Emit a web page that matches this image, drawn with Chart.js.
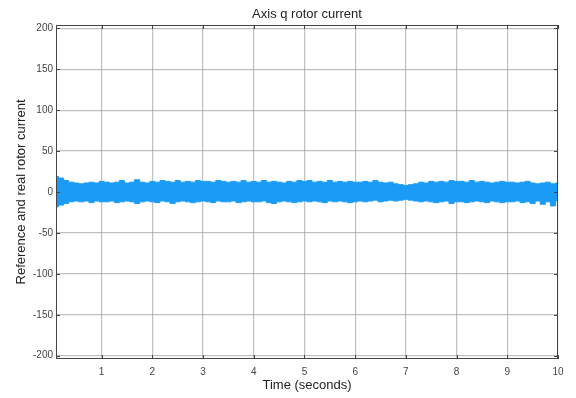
<!DOCTYPE html>
<html>
<head>
<meta charset="utf-8">
<script src="https://cdn.jsdelivr.net/npm/chart.js@4/dist/chart.umd.min.js"></script>
<style>
  html, body { margin: 0; padding: 0; background: #fff; }
  #wrap { width: 576px; height: 398px; position: relative; }
</style>
</head>
<body>
<div id="wrap"><canvas id="chart"></canvas></div>
<script>
// time samples (s)
const times = [
  0.1, 0.2, 0.3, 0.4, 0.5, 0.6, 0.7, 0.8, 0.9, 1.0,
  1.1, 1.2, 1.3, 1.4, 1.5, 1.6, 1.7, 1.8, 1.9, 2.0,
  2.1, 2.2, 2.3, 2.4, 2.5, 2.6, 2.7, 2.8, 2.9, 3.0,
  3.1, 3.2, 3.3, 3.4, 3.5, 3.6, 3.7, 3.8, 3.9, 4.0,
  4.1, 4.2, 4.3, 4.4, 4.5, 4.6, 4.7, 4.8, 4.9, 5.0,
  5.1, 5.2, 5.3, 5.4, 5.5, 5.6, 5.7, 5.8, 5.9, 6.0,
  6.1, 6.2, 6.3, 6.4, 6.5, 6.6, 6.7, 6.8, 6.9, 7.0,
  7.1, 7.2, 7.3, 7.4, 7.5, 7.6, 7.7, 7.8, 7.9, 8.0,
  8.1, 8.2, 8.3, 8.4, 8.5, 8.6, 8.7, 8.8, 8.9, 9.0,
  9.1, 9.2, 9.3, 9.4, 9.5, 9.6, 9.7, 9.8, 9.9, 10.0
];

// upper edge of the current ripple
const upperCurrent = [
  19, 17, 14, 12, 11, 10, 11, 12, 11, 13,
  12, 11, 12, 14, 11, 12, 15, 12, 11, 13,
  12, 14, 13, 12, 14, 12, 13, 12, 14, 13,
  13, 12, 14, 13, 12, 13, 12, 14, 12, 13,
  12, 14, 12, 13, 12, 11, 13, 12, 14, 13,
  14, 12, 13, 12, 14, 12, 13, 12, 13, 12,
  12, 13, 12, 14, 12, 11, 12, 10, 9, 8,
  9, 10, 12, 11, 13, 12, 13, 12, 14, 13,
  13, 12, 14, 12, 13, 12, 11, 12, 13, 12,
  12, 11, 12, 13, 11, 10, 11, 12, 10, 11
];

// lower edge of the current ripple
const lowerCurrent = [
  -18, -16, -14, -12, -11, -12, -11, -13, -11, -12,
  -12, -11, -13, -12, -11, -12, -14, -12, -11, -12,
  -13, -11, -12, -14, -12, -11, -12, -13, -12, -11,
  -12, -13, -11, -12, -12, -11, -13, -12, -11, -12,
  -12, -11, -13, -14, -12, -11, -12, -13, -12, -11,
  -12, -11, -12, -13, -11, -12, -11, -12, -13, -12,
  -11, -12, -11, -10, -12, -11, -10, -11, -10, -9,
  -10, -11, -12, -11, -12, -13, -12, -11, -14, -12,
  -12, -13, -12, -11, -12, -13, -11, -12, -13, -12,
  -12, -11, -13, -12, -14, -11, -15, -12, -17, -11
];

const xTicks = [1, 2, 3, 4, 5, 6, 7, 8, 9, 10];
const yTicks = [-200, -150, -100, -50, 0, 50, 100, 150, 200];

const blue = '#1a9bf6';
const font = "'Liberation Sans', Arial, sans-serif";
const gridColor = 'rgba(150,150,150,0.6)';

// box around the plot + matlab-ish title centred on the axes
const boxPlugin = {
  id: 'box',
  afterDraw(chart) {
    const { ctx, chartArea: a } = chart;
    ctx.save();
    ctx.strokeStyle = '#444';
    ctx.lineWidth = 1;
    ctx.strokeRect(a.left + 0.5, a.top + 0.5, a.right - a.left - 1, a.bottom - a.top - 1);
    // small inward tick marks
    const xs = chart.scales.x, ys = chart.scales.y;
    ctx.beginPath();
    xTicks.forEach(v => {
      const px = Math.round(xs.getPixelForValue(v)) + 0.5;
      ctx.moveTo(px, a.bottom); ctx.lineTo(px, a.bottom - 4);
      ctx.moveTo(px, a.top); ctx.lineTo(px, a.top + 4);
    });
    yTicks.forEach(v => {
      const py = Math.round(ys.getPixelForValue(v)) + 0.5;
      ctx.moveTo(a.left, py); ctx.lineTo(a.left + 4, py);
      ctx.moveTo(a.right, py); ctx.lineTo(a.right - 4, py);
    });
    ctx.stroke();
    ctx.fillStyle = '#222';
    ctx.font = '13px ' + font;
    ctx.textAlign = 'center';
    ctx.textBaseline = 'middle';
    ctx.fillText('Axis q rotor current', (a.left + a.right) / 2, 14);
    ctx.restore();
  }
};

const ctx = document.getElementById('chart').getContext('2d');
new Chart(ctx, {
  type: 'line',
  data: {
    datasets: [
      {
        label: 'upper',
        data: times.map((t, i) => ({ x: t, y: upperCurrent[i] })),
        borderColor: blue,
        backgroundColor: blue,
        borderWidth: 1,
        pointRadius: 0,
        stepped: 'middle',
        fill: '+1'
      },
      {
        label: 'lower',
        data: times.map((t, i) => ({ x: t, y: lowerCurrent[i] })),
        borderColor: blue,
        backgroundColor: blue,
        borderWidth: 1,
        pointRadius: 0,
        stepped: 'middle',
        fill: false
      }
    ]
  },
  options: {
    responsive: true,
    maintainAspectRatio: false,
    animation: false,
    layout: { padding: { left: 0, right: 18, top: 25, bottom: 0 } },
    plugins: {
      legend: { display: false },
      tooltip: { enabled: false },
      title: { display: false }
    },
    scales: {
      x: {
        type: 'linear',
        min: 0.1,
        max: 10,
        afterBuildTicks: axis => { axis.ticks = xTicks.map(v => ({ value: v })); },
        afterFit: axis => { axis.height = 39; },
        grid: { color: gridColor, lineWidth: 1.2, drawTicks: false },
        border: { display: false },
        ticks: { color: '#444', font: { family: font, size: 10 }, padding: 7, maxRotation: 0 },
        title: { display: true, text: 'Time (seconds)', color: '#222', font: { family: font, size: 13 }, padding: { top: 0, bottom: 5 } }
      },
      y: {
        min: -204,
        max: 204,
        afterBuildTicks: axis => { axis.ticks = yTicks.map(v => ({ value: v })); },
        afterFit: axis => { axis.width = 56; },
        grid: { color: gridColor, lineWidth: 1.2, drawTicks: false },
        border: { display: false },
        ticks: { color: '#444', font: { family: font, size: 10 }, padding: 3 },
        title: { display: true, text: 'Reference and real rotor current', color: '#222', font: { family: font, size: 13 }, padding: { top: 14, bottom: 0 } }
      }
    }
  },
  plugins: [boxPlugin]
});
</script>
</body>
</html>
